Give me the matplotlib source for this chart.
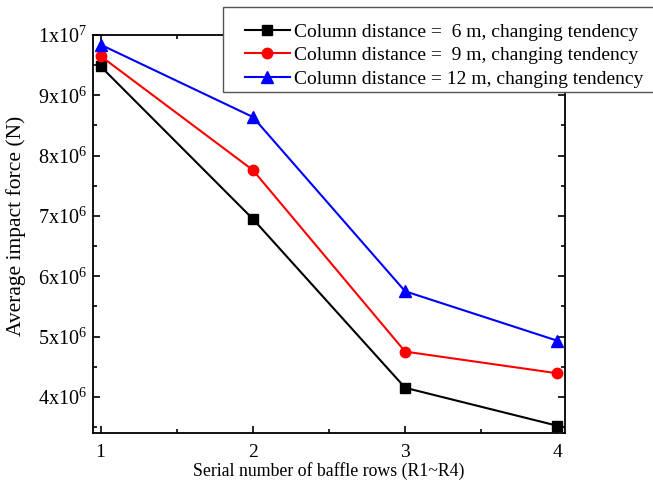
import matplotlib
matplotlib.use('Agg')
import matplotlib.pyplot as plt
from matplotlib.patches import Rectangle
from matplotlib.ticker import FuncFormatter, MultipleLocator

plt.rcParams['font.family'] = ['Liberation Serif', 'DejaVu Serif']
plt.rcParams['mathtext.fontset'] = 'custom'
plt.rcParams['mathtext.rm'] = 'Liberation Serif'

# data
rows = [1, 2, 3, 4]
force_6m = [9.48e6, 6.95e6, 4.15e6, 3.52e6]
force_9m = [9.65e6, 7.76e6, 4.75e6, 4.39e6]
force_12m = [9.84e6, 8.64e6, 5.75e6, 4.93e6]
labels = ['Column distance =  6 m, changing tendency',
          'Column distance =  9 m, changing tendency',
          'Column distance = 12 m, changing tendency']

fig = plt.figure(figsize=(6.53, 4.84), dpi=100)
ax = fig.add_axes([93 / 653, 51 / 484, 472 / 653, 398 / 484])

ax.plot(rows, force_6m, color='black', marker='s', markersize=7, lw=1.5, label=labels[0])
ax.plot(rows, force_9m, color='red', marker='o', markersize=7.5, lw=1.5, label=labels[1])
ax.plot(rows, force_12m, color='blue', marker='^', markersize=8, lw=1.5, label=labels[2])

ax.set_xlim(0.95, 4.05)
ax.set_ylim(3.4e6, 1.0e7)
ax.xaxis.set_major_locator(MultipleLocator(1))
ax.xaxis.set_minor_locator(MultipleLocator(0.5))
ax.yaxis.set_major_locator(MultipleLocator(1e6))
ax.yaxis.set_minor_locator(MultipleLocator(5e5))


def sci_fmt(v, pos):
    if v <= 0:
        return ''
    exp = len(str(int(round(v)))) - 1
    mant = int(round(v / 10 ** exp))
    return r'$\mathregular{%dx10^{%d}}$' % (mant, exp)


ax.yaxis.set_major_formatter(FuncFormatter(sci_fmt))
ax.tick_params(which='both', direction='in', top=True, right=True)
ax.tick_params(axis='y', labelsize=14.5, pad=4)
ax.tick_params(axis='x', labelsize=14, pad=8)
ax.tick_params(which='major', length=5, width=1.2)
ax.tick_params(which='minor', length=3, width=1.2)
for s in ax.spines.values():
    s.set_linewidth(1.3)

ax.set_xlabel('Serial number of baffle rows (R1~R4)', fontsize=12.8, labelpad=1)
ax.set_ylabel('Average impact force (N)', fontsize=15.5)
ax.yaxis.set_label_coords(-0.143, 0.52)

leg = fig.legend(loc='upper left', bbox_to_anchor=(245 / 653, 1 - 23 / 484),
                 fontsize=14, frameon=False,
                 handlelength=2.3, handletextpad=0.2, labelspacing=0.3,
                 borderpad=0.0, borderaxespad=0.0)
fig.add_artist(Rectangle((223 / 653, 1 - 92 / 484), 0.7, 85 / 484,
                         transform=fig.transFigure, facecolor='white',
                         edgecolor='#555555', lw=1.0, zorder=2.5))
leg.set_zorder(3)

fig.savefig('out.png', dpi=100)
